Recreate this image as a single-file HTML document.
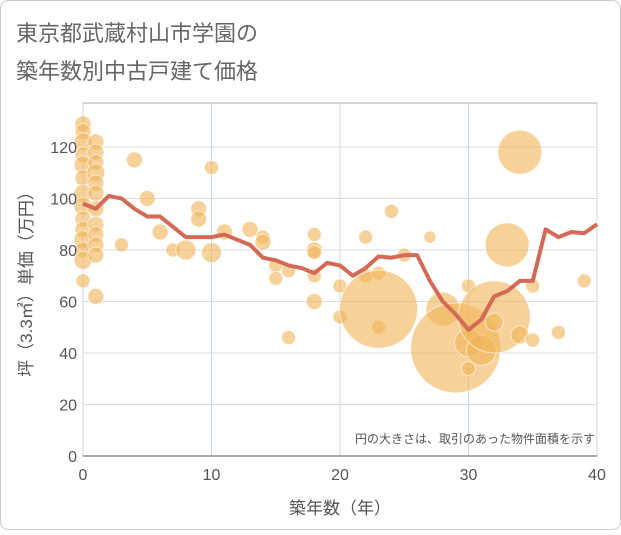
<!DOCTYPE html>
<html><head><meta charset="utf-8">
<style>
body{margin:0;background:#fff;}
#wrap{position:relative;width:621px;height:530px;font-family:"Liberation Sans","Noto Sans CJK JP",sans-serif;}
</style></head>
<body>
<div id="wrap">
<svg id="chart" width="621" height="530" xmlns="http://www.w3.org/2000/svg">
<rect x="0.5" y="0.5" width="620" height="529" rx="8" fill="#fff" stroke="#ccc"/>
<text x="16" y="41" font-size="22" fill="#666" font-family="Liberation Sans, Noto Sans CJK JP, sans-serif">東京都武蔵村山市学園の</text>
<text x="16" y="79" font-size="22" fill="#666" font-family="Liberation Sans, Noto Sans CJK JP, sans-serif">築年数別中古戸建て価格</text>
<g id="grid"></g><g id="bubbles"></g><g id="line"></g><g id="axes"></g>
<text x="595" y="443" font-size="12" fill="#555" text-anchor="end" font-family="Liberation Sans, Noto Sans CJK JP, sans-serif">円の大きさは、取引のあった物件面積を示す</text>
<text x="340" y="514" font-size="17" fill="#555" text-anchor="middle" font-family="Liberation Sans, Noto Sans CJK JP, sans-serif">築年数（年）</text>
<text transform="translate(32,280) rotate(-90)" font-size="17" fill="#555" text-anchor="middle" font-family="Liberation Sans, Noto Sans CJK JP, sans-serif">坪（3.3㎡）単価（万円）</text>
</svg>
</div>
<script>
const xTicks=[0,10,20,30,40];
const yTicks=[0,20,40,60,80,100,120];
const lineYears=[0,1,2,3,4,5,6,7,8,9,10,11,12,13,14,15,16,17,18,19,20,21,22,23,24,25,26,27,28,29,30,31,32,33,34,35,36,37,38,39,40];
const lineValues=[98,96,101,100,96,93,93,89,85,85,85,86,84,82,77,76,74,73,71,75,74,70,73,77.5,77,78,78,68,60,55,49,53,62,64,68,68,88,85,87,86.5,90];
const bubbleYears=[0,0,0,0,0,0,0,0,0,0,0,0,0,0, 1,1,1,1,1,1,1,1,1,1,1,1, 3,4,5,6,7,8,9,9,10,10,11,13,14,14,15,15,16,16,18,18,18,18,18, 20,20,22,22,23,23,24,25,27,23,28,29,30,30,30,31,32,32,33,34,34,35,35,37,39];
const bubbleValues=[129,126,122,117,113,108,102,97,92,88,84,80,76,68, 122,118,114,110,106,102,96,90,86,82,78,62, 82,115,100,87,80,80,96,92,112,79,87,88,85,83,74,69,72,46,86,80,79,70,60, 66,54,85,70,71,50,95,78,85,57,57,42,66,34,44,41,54,52,82,118,47,66,45,48,68];
const bubbleSizes=[8,8,9,8,9,8,9,9,8,8,9,8,9,7, 8,8,8,9,8,8,8,8,8,8,8,8, 7,8,8,8,7,10,8,8,7,10,8,8,7,8,7,7,7,7,7,8,7,7,8, 7,7,7,7,7,7,7,7,6,39,17,45,7,7,14,15,36,9,22,22,9,7,7,7,7];
const X=v=>83+v*12.85, Y=v=>456-v*2.575;
const NS='http://www.w3.org/2000/svg';
function mk(tag,attrs,parent){const e=document.createElementNS(NS,tag);for(const k in attrs)e.setAttribute(k,attrs[k]);document.getElementById(parent).appendChild(e);return e;}
mk('rect',{x:83,y:103,width:514,height:353,fill:'none',stroke:'#aaa'},'grid');
xTicks.forEach(t=>{
 const l=mk('line',{x1:X(t),x2:X(t),y1:103,y2:456,stroke:'#c8d8e6'},'grid');
 
 
 const tx=mk('text',{x:X(t),y:480,'font-size':16,fill:'#555','text-anchor':'middle'},'axes');tx.textContent=t;
 
 
});
yTicks.forEach(t=>{
 const l=mk('line',{x1:83,x2:597,y1:Y(t),y2:Y(t),stroke:'#d4dde6'},'grid');
 
 
 const tx=mk('text',{x:77,y:Y(t)+6,'font-size':16,fill:'#555','text-anchor':'end'},'axes');tx.textContent=t;
 
 
});
mk('line',{x1:83,x2:597,y1:456,y2:456,stroke:'#555'},'axes');
bubbleYears.forEach((yr,i)=>{
 const c=mk('circle',{cx:X(yr),cy:Y(bubbleValues[i]),r:bubbleSizes[i],fill:'rgba(240,180,90,0.62)',stroke:'rgba(255,255,255,0.6)'},'bubbles');
 
 
});
const p=mk('polyline',{points:lineYears.map((y,i)=>X(y)+','+Y(lineValues[i])).join(' '),fill:'none',stroke:'#d46a55','stroke-width':4,'stroke-linejoin':'round'},'line');


</script>
</body></html>
